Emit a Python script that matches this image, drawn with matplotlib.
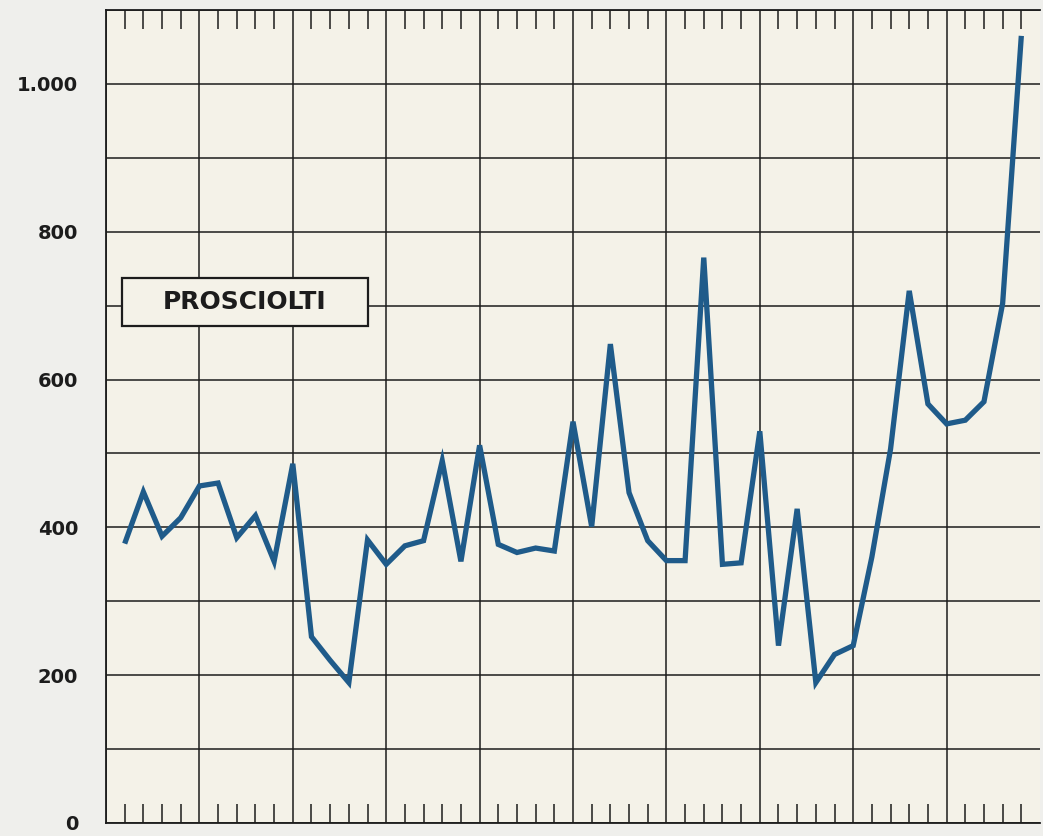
import numpy as np
import matplotlib
matplotlib.use("Agg")
from matplotlib import pyplot as plt
from matplotlib.patches import Rectangle

# valori (un punto per ogni tacca)
anni = np.arange(1, 50)
prosciolti = [378, 448, 388, 413, 456, 460, 386, 416, 354, 486,
              252, 220, 190, 383, 350, 375, 382, 490, 354, 511,
              377, 366, 372, 368, 543, 401, 648, 447, 382, 355,
              355, 765, 350, 352, 530, 240, 425, 190, 228, 240,
              360, 506, 720, 567, 540, 545, 570, 703, 1065]

y_ticks = np.arange(0, 1101, 100)
y_labels = ["0", "", "200", "", "400", "", "600", "", "800", "", "1.000", ""]
etichetta = "PROSCIOLTI"

fondo = "#f4f2e8"
nero = "#1c1c1c"

fig = plt.figure(figsize=(10.43, 8.36), dpi=100, facecolor="#efefec")
ax = fig.add_axes([106 / 1043, 13 / 836, 934 / 1043, 813 / 836])
ax.set_facecolor(fondo)

ax.plot(anni, prosciolti, color="#1f5b8a", lw=3.8, solid_joinstyle="miter",
        solid_capstyle="butt", zorder=4)

ax.set_xlim(0, 50)
ax.set_ylim(0, 1100)

# griglia
ax.set_xticks(np.arange(0, 50, 5))
ax.set_xticks(np.arange(0, 50), minor=True)
ax.set_yticks(y_ticks)
ax.set_yticklabels(y_labels)
ax.grid(True, which="major", color=nero, lw=1.1, zorder=1)
ax.tick_params(axis="x", which="major", length=0, labelbottom=False)
ax.tick_params(axis="x", which="minor", direction="in", top=True, bottom=True,
               length=14, width=1.1, color=nero)
ax.tick_params(axis="y", which="major", length=0, pad=20, labelcolor=nero)
for lab in ax.get_yticklabels():
    lab.set_fontsize(14)
    lab.set_fontweight("bold")

for s in ["left", "top", "bottom"]:
    ax.spines[s].set_color(nero)
    ax.spines[s].set_linewidth(1.3)
ax.spines["right"].set_visible(False)

# riquadro con la scritta
bx, by, bw, bh = 0.017, 0.611, 0.263, 0.059
box = Rectangle((bx, by), bw, bh, transform=ax.transAxes,
                facecolor=fondo, edgecolor=nero, lw=1.6, zorder=3)
ax.add_patch(box)
ax.text(bx + bw / 2, by + bh / 2, etichetta, transform=ax.transAxes,
        ha="center", va="center", fontsize=18, fontweight="bold", color=nero,
        zorder=5)

plt.savefig("out.png", dpi=100, facecolor=fig.get_facecolor())
